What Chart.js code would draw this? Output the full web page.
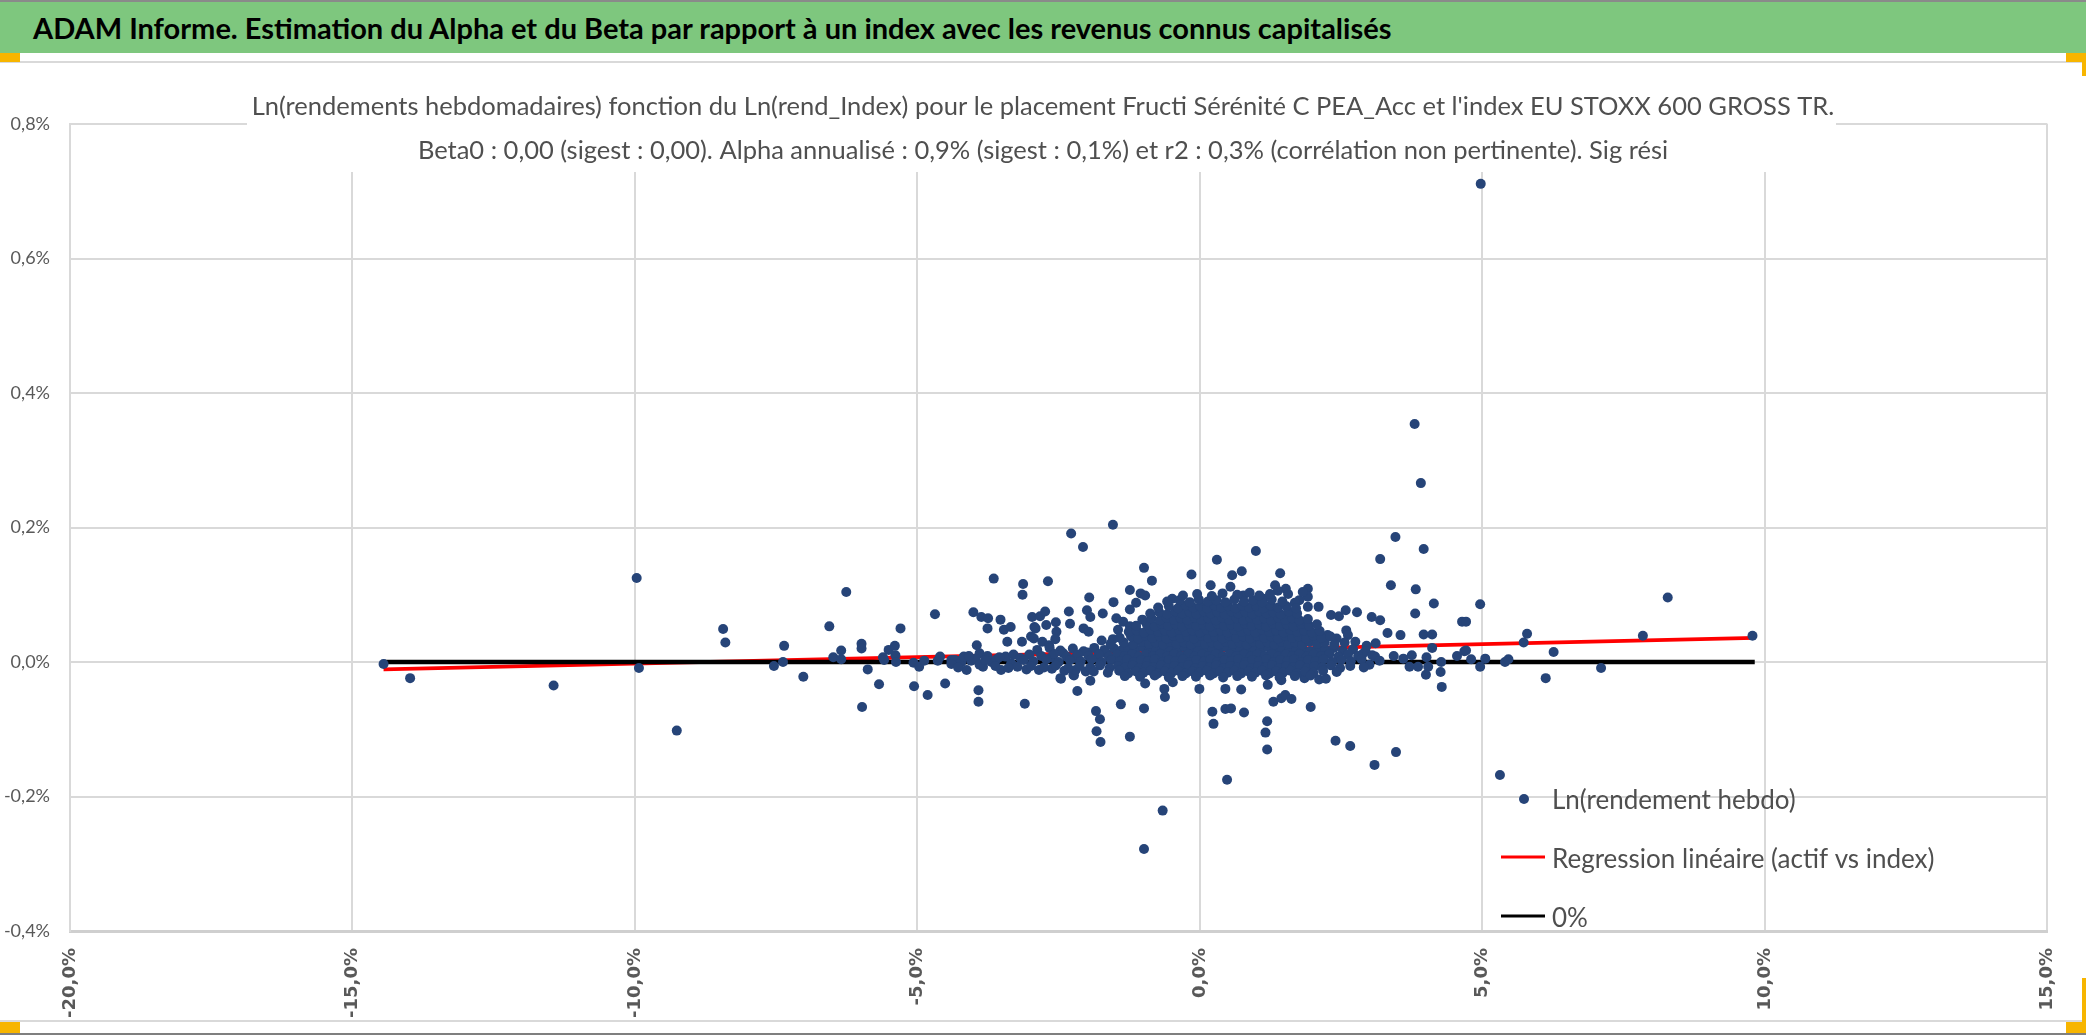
<!DOCTYPE html>
<html>
<head>
<meta charset="utf-8">
<script src="https://cdn.jsdelivr.net/npm/chart.js@4.4.1/dist/chart.umd.min.js"></script>
<style>
  html, body { margin: 0; padding: 0; background: #fff; width: 2086px; height: 1035px; overflow: hidden; }
  #header { position: absolute; left: 0; top: 0; width: 2086px; height: 51px; border-top: 2px solid #8a8a8a; background: #7ec77e; z-index: 2; }
  #header span { position: absolute; left: 33px; top: 8px; line-height: 36px; font: bold 29px Lato, sans-serif; color: #000; white-space: nowrap; }
  .rule { position: absolute; left: 0; width: 2086px; z-index: 2; }
  .handle { position: absolute; background: #f7b500; z-index: 3; }
  #chart { position: absolute; left: 0; top: 0; z-index: 1; }
</style>
</head>
<body>
<div id="header"><span>ADAM Informe. Estimation du Alpha et du Beta par rapport à un index avec les revenus connus capitalisés</span></div>
<div class="rule" style="top:61px;height:2px;background:#d9d9d9"></div>
<div class="rule" style="top:1020px;height:2px;background:#d9d9d9"></div>
<div class="rule" style="top:1033px;height:2px;background:#7f7f7f"></div>
<div class="handle" style="left:0;top:53px;width:20px;height:9px"></div>
<div class="handle" style="left:2066px;top:53px;width:20px;height:9px"></div>
<div class="handle" style="left:2082px;top:62px;width:4px;height:14px"></div>
<div class="handle" style="left:0;top:1022px;width:20px;height:11px"></div>
<div class="handle" style="left:2082px;top:978px;width:4px;height:44px"></div>
<div class="handle" style="left:2066px;top:1022px;width:20px;height:11px"></div>
<canvas id="chart" width="2086" height="1035"></canvas>
<script>
// x = Ln(rend_Index) en %, y = Ln(rendement hebdo) en %
const titleLines = [
  "Ln(rendements hebdomadaires) fonction du Ln(rend_Index) pour le placement Fructi Sérénité C PEA_Acc et l'index EU STOXX 600 GROSS TR.",
  "Beta0 : 0,00 (sigest : 0,00). Alpha annualisé : 0,9% (sigest : 0,1%) et r2 : 0,3% (corrélation non pertinente). Sig rési"
];
const seriesLabels = ["Ln(rendement hebdo)", "Regression linéaire (actif vs index)", "0%"];

const xTicks = { min: -20, max: 15, step: 5 };
const yTicks = { min: -0.4, max: 0.8, step: 0.2 };

// points isolés (queues gauche/droite, valeurs extrêmes)
const wingPoints = [
  [-14.45,-0.003],[-13.98,-0.024],[-11.44,-0.035],[-9.97,0.125],[-9.93,-0.009],[-9.26,-0.102],
  [-8.44,0.049],[-8.40,0.029],[-7.54,-0.006],[-7.38,0.000],[-7.36,0.024],[-7.02,-0.022],
  [-6.56,0.053],[-6.26,0.104],[-6.49,0.007],[-6.35,0.004],[-6.35,0.017],[-5.99,0.027],
  [-5.99,0.020],[-5.88,-0.011],[-5.98,-0.067],[-5.68,-0.033],[-5.61,0.007],[-5.59,0.003],
  [-5.51,0.018],[-5.40,0.024],[-5.39,0.010],[-5.38,0.000],[-5.30,0.050],[-5.06,-0.036],
  [-5.07,-0.001],[-4.97,-0.007],[-4.88,0.002],[-4.69,0.071],[-4.82,-0.049],[-4.51,-0.032],
  [-4.64,0.002],[-4.60,0.008],[-4.40,0.003],[-4.31,0.002],[-4.25,-0.002],
  [-4.01,0.074],[-3.87,0.067],[-3.75,0.065],[-3.76,0.050],[-3.53,0.063],[-3.47,0.048],
  [-3.35,0.052],[-3.41,0.030],[-2.97,0.067],[-2.93,0.052],[-2.99,0.038],[-3.15,0.030],
  [-2.83,0.068],[-2.74,0.075],[-2.72,0.055],[-2.55,0.059],[-2.54,0.045],[-2.32,0.075],
  [-2.30,0.057],[-2.00,0.077],[-1.94,0.067],[-1.72,0.072],[-1.48,0.065],[-1.36,0.060],
  [-3.95,0.025],[-3.90,0.013],[-1.54,0.204],[-2.28,0.191],[-2.07,0.171],[-3.65,0.124],
  [-3.13,0.116],[-3.14,0.100],[-2.69,0.120],[-0.99,0.140],[-0.85,0.121],[0.30,0.152],
  [-0.15,0.130],[-1.96,0.096],[-1.53,0.089],[-1.24,0.107],[-1.05,0.102],[-0.97,0.099],
  [-0.49,0.094],[0.19,0.114],
  [-3.92,-0.042],[-3.92,-0.059],[-3.10,-0.062],[-2.46,-0.025],[-2.23,-0.020],[-2.17,-0.043],
  [-1.94,-0.028],[-1.84,-0.073],[-1.77,-0.085],[-1.83,-0.103],[-1.76,-0.119],[-1.40,-0.063],
  [-1.24,-0.111],[-0.99,-0.069],[-0.63,-0.040],[-0.62,-0.052],[-0.48,-0.030],[-0.01,-0.040],
  [0.22,-0.074],[0.24,-0.092],[0.45,-0.040],[0.45,-0.070],[-0.97,-0.032],[-2.47,-0.024],
  [-2.24,-0.019],[-0.99,-0.278],[-0.66,-0.221],[0.48,-0.175],
  [-4.34,0.003],[-4.22,0.000],[-4.13,-0.012],[-4.05,0.002],[-3.84,-0.007],[-3.69,0.000],
  [-3.52,-0.012],[-3.34,-0.002],[-3.23,-0.007],[-4.18,0.008],[-3.97,0.005],[-3.76,0.009],
  [-3.60,0.004],[-3.44,0.008],[-3.30,0.011],[-3.90,-0.004],[-3.62,-0.006],[-4.40,-0.003],
  [-4.28,-0.008],[-4.09,0.009],[-3.80,0.003],[-3.55,0.007],[-3.39,-0.009],[-3.18,0.006],
  [-3.07,-0.011],[-2.85,-0.012],[-2.62,-0.010],[-2.40,-0.013],[-2.20,-0.012],[-2.02,-0.014],
  [-2.63,0.007],[-2.42,0.013],[-2.21,0.006],[-1.99,0.014],[-1.81,0.006],[-1.66,0.013],
  [-2.06,0.050],[-1.97,0.045],[-1.45,0.048],[-1.24,0.053],[-1.24,0.078],[-1.13,0.088],
  [-2.91,0.050],[-2.94,0.035],[-2.79,0.030],[-2.67,0.025],[-2.56,0.034],[-1.74,0.032],
  [-1.54,0.034],
  [3.46,0.186],[3.96,0.168],[0.99,0.165],[3.19,0.153],[3.38,0.114],[3.82,0.108],
  [4.14,0.087],[4.96,0.086],[3.81,0.072],[4.64,0.060],[3.04,0.067],[3.19,0.062],
  [2.78,0.074],[3.32,0.043],[3.55,0.040],[3.96,0.041],[4.11,0.041],[3.11,0.028],
  [4.11,0.021],[4.55,0.009],[4.68,0.016],[4.80,0.004],[5.05,0.005],[4.96,-0.007],
  [5.40,0.000],[3.43,0.009],[3.60,0.005],[3.75,0.010],[3.71,-0.007],[3.86,-0.007],
  [4.01,0.007],[4.04,-0.007],[4.00,-0.019],[4.27,0.000],[4.26,-0.015],[4.28,-0.037],
  [2.59,0.047],[2.42,0.035],[2.26,0.040],[2.32,0.070],[2.46,0.068],[2.58,0.077],
  [2.10,0.082],[1.91,0.082],[1.91,0.109],[1.91,0.097],[1.76,0.092],[1.52,0.109],
  [1.42,0.132],[1.33,0.114],[1.12,0.094],[0.98,0.090],[0.77,0.099],[0.74,0.135],
  [0.57,0.129],[0.54,0.112],[1.38,0.106],[1.56,0.101],[1.68,0.088],[1.82,0.104],
  [2.75,0.030],[2.88,0.012],[3.00,-0.004],[2.62,0.040],[2.95,0.024],[3.10,0.008],
  [0.73,-0.041],[0.55,-0.069],[0.78,-0.075],[1.20,-0.034],[1.44,-0.027],[1.30,-0.059],
  [1.44,-0.054],[1.51,-0.049],[1.62,-0.055],[1.19,-0.088],[1.16,-0.105],[1.19,-0.130],
  [1.96,-0.067],[1.85,-0.024],[2.11,-0.026],[2.23,-0.025],[2.40,-0.117],[2.66,-0.125],
  [3.09,-0.153],[3.47,-0.134],
  [8.28,0.096],[9.78,0.039],[7.84,0.039],[5.79,0.042],[5.73,0.029],[6.26,0.015],
  [6.12,-0.024],[7.10,-0.009],[4.71,0.017],[4.71,0.060],[5.46,0.004],[5.31,-0.168],
  [4.97,0.711],[3.80,0.354],[3.91,0.266]
];

// bande dense autour de zéro
const bandPoints = [
  [-2.88,0.018],[-2.66,0.021],[-2.47,0.017],[-2.25,0.020],[-2.06,0.016],[-1.87,0.021],[-1.69,0.018],
  [-1.52,0.020],[-1.39,0.017],[-1.26,0.021],[-1.14,0.019],[-1.01,0.022],[-0.89,0.018],[-0.77,0.020],
  [-0.64,0.017],[-0.52,0.021],[-0.40,0.019],[-0.27,0.022],[-0.15,0.018],[-0.03,0.020],[0.10,0.017],
  [0.22,0.021],[0.34,0.019],[0.47,0.022],[0.59,0.018],[0.71,0.020],[0.84,0.017],[0.96,0.021],
  [1.08,0.019],[1.21,0.022],[1.33,0.018],[1.45,0.020],[1.58,0.017],[1.70,0.021],[1.82,0.019],
  [1.95,0.016],[2.08,0.020],[2.22,0.018],[2.37,0.021],[2.53,0.017],[2.71,0.019],[2.93,0.016],
  [-3.02,0.011],[-2.81,0.009],[-2.58,0.012],[-2.36,0.008],[-2.16,0.011],[-1.97,0.009],[-1.79,0.012],
  [-1.61,0.008],[-1.46,0.011],[-1.33,0.009],[-1.20,0.012],[-1.08,0.008],[-0.95,0.011],[-0.83,0.009],
  [-0.70,0.012],[-0.58,0.008],[-0.46,0.011],[-0.33,0.009],[-0.21,0.012],[-0.09,0.008],[0.04,0.011],
  [0.16,0.009],[0.28,0.012],[0.41,0.008],[0.53,0.011],[0.65,0.009],[0.78,0.012],[0.90,0.008],
  [1.02,0.011],[1.15,0.009],[1.27,0.012],[1.39,0.008],[1.52,0.011],[1.64,0.009],[1.76,0.012],
  [1.89,0.008],[2.01,0.011],[2.15,0.009],[2.29,0.012],[2.45,0.008],[2.62,0.011],[2.80,0.009],
  [3.05,0.010],
  [-3.12,0.003],[-2.95,0.001],[-2.72,0.004],[-2.50,0.000],[-2.30,0.003],[-2.11,0.001],[-1.92,0.004],
  [-1.74,0.000],[-1.57,0.003],[-1.42,0.001],[-1.29,0.004],[-1.17,0.000],[-1.04,0.003],[-0.92,0.001],
  [-0.80,0.004],[-0.67,0.000],[-0.55,0.003],[-0.43,0.001],[-0.30,0.004],[-0.18,0.000],[-0.06,0.003],
  [0.07,0.001],[0.19,0.004],[0.31,0.000],[0.44,0.003],[0.56,0.001],[0.68,0.004],[0.81,0.000],
  [0.93,0.003],[1.05,0.001],[1.18,0.004],[1.30,0.000],[1.42,0.003],[1.55,0.001],[1.67,0.004],
  [1.79,0.000],[1.92,0.003],[2.05,0.001],[2.19,0.004],[2.34,0.000],[2.50,0.003],[2.67,0.001],
  [2.86,0.004],[3.18,0.002],
  [-2.99,-0.006],[-2.76,-0.008],[-2.55,-0.005],[-2.33,-0.009],[-2.13,-0.006],[-1.94,-0.008],[-1.77,-0.005],
  [-1.60,-0.009],[-1.45,-0.006],[-1.32,-0.008],[-1.19,-0.005],[-1.07,-0.009],[-0.94,-0.006],[-0.82,-0.008],
  [-0.69,-0.005],[-0.57,-0.009],[-0.45,-0.006],[-0.32,-0.008],[-0.20,-0.005],[-0.08,-0.009],[0.05,-0.006],
  [0.17,-0.008],[0.29,-0.005],[0.42,-0.009],[0.54,-0.006],[0.66,-0.008],[0.79,-0.005],[0.91,-0.009],
  [1.03,-0.006],[1.16,-0.008],[1.28,-0.005],[1.40,-0.009],[1.53,-0.006],[1.65,-0.008],[1.77,-0.005],
  [1.90,-0.009],[2.03,-0.006],[2.17,-0.008],[2.32,-0.005],[2.48,-0.009],[2.66,-0.006],[2.90,-0.008],
  [-1.88,-0.014],[-1.63,-0.016],[-1.43,-0.013],[-1.27,-0.017],[-1.13,-0.014],[-1.00,-0.016],[-0.87,-0.013],
  [-0.75,-0.017],[-0.62,-0.014],[-0.50,-0.016],[-0.38,-0.013],[-0.25,-0.017],[-0.13,-0.014],[-0.01,-0.016],
  [0.12,-0.013],[0.24,-0.017],[0.36,-0.014],[0.49,-0.016],[0.61,-0.013],[0.73,-0.017],[0.86,-0.014],
  [0.98,-0.016],[1.10,-0.013],[1.23,-0.017],[1.35,-0.014],[1.47,-0.016],[1.60,-0.013],[1.72,-0.017],
  [1.86,-0.014],[2.01,-0.016],[2.18,-0.013],[2.42,-0.015],
  [-1.33,-0.021],[-1.06,-0.022],[-0.80,-0.020],[-0.55,-0.023],[-0.31,-0.021],[-0.07,-0.022],[0.18,-0.020],
  [0.41,-0.023],[0.66,-0.021],[0.92,-0.022],[1.17,-0.020],[1.41,-0.023],[1.68,-0.021],[1.96,-0.020]
];

// nuage au-dessus de la bande
const cloudPoints = [
  [-1.58,0.027],[-1.35,0.029],[-1.18,0.026],[-1.03,0.030],[-0.90,0.027],[-0.78,0.029],[-0.65,0.026],
  [-0.53,0.030],[-0.41,0.027],[-0.28,0.029],[-0.16,0.026],[-0.04,0.030],[0.09,0.027],[0.21,0.029],
  [0.33,0.026],[0.46,0.030],[0.58,0.027],[0.70,0.029],[0.83,0.026],[0.95,0.030],[1.07,0.027],
  [1.20,0.029],[1.32,0.026],[1.44,0.030],[1.57,0.027],[1.69,0.029],[1.81,0.026],[1.94,0.030],
  [2.07,0.027],[2.21,0.029],[2.38,0.026],[2.56,0.029],
  [-1.42,0.036],[-1.22,0.038],[-1.09,0.035],[-0.96,0.039],[-0.84,0.036],[-0.71,0.038],[-0.59,0.035],
  [-0.47,0.039],[-0.34,0.036],[-0.22,0.038],[-0.10,0.035],[0.03,0.039],[0.15,0.036],[0.27,0.038],
  [0.40,0.035],[0.52,0.039],[0.64,0.036],[0.77,0.038],[0.89,0.035],[1.01,0.039],[1.14,0.036],
  [1.26,0.038],[1.38,0.035],[1.51,0.039],[1.63,0.036],[1.75,0.038],[1.88,0.035],[2.01,0.039],
  [2.15,0.036],[2.31,0.038],
  [-1.26,0.045],[-1.12,0.047],[-0.99,0.044],[-0.87,0.048],[-0.74,0.045],[-0.62,0.047],[-0.50,0.044],
  [-0.37,0.048],[-0.25,0.045],[-0.13,0.047],[0.00,0.044],[0.12,0.048],[0.24,0.045],[0.37,0.047],
  [0.49,0.044],[0.61,0.048],[0.74,0.045],[0.86,0.047],[0.98,0.044],[1.11,0.048],[1.23,0.045],
  [1.35,0.047],[1.48,0.044],[1.60,0.048],[1.72,0.045],[1.85,0.047],[1.98,0.044],[2.12,0.046],
  [-1.13,0.054],[-0.94,0.056],[-0.80,0.053],[-0.68,0.057],[-0.56,0.054],[-0.43,0.056],[-0.31,0.053],
  [-0.19,0.057],[-0.06,0.054],[0.06,0.056],[0.18,0.053],[0.31,0.057],[0.43,0.054],[0.55,0.056],
  [0.68,0.053],[0.80,0.057],[0.92,0.054],[1.05,0.056],[1.17,0.053],[1.29,0.057],[1.42,0.054],
  [1.54,0.056],[1.66,0.053],[1.79,0.057],[1.93,0.054],[2.07,0.056],
  [-1.02,0.063],[-0.86,0.065],[-0.71,0.062],[-0.59,0.066],[-0.46,0.063],[-0.34,0.065],[-0.22,0.062],
  [-0.09,0.066],[0.03,0.063],[0.15,0.065],[0.28,0.062],[0.40,0.066],[0.52,0.063],[0.65,0.065],
  [0.77,0.062],[0.89,0.066],[1.02,0.063],[1.14,0.065],[1.26,0.062],[1.39,0.066],[1.51,0.063],
  [1.63,0.065],[1.76,0.062],[1.91,0.064],
  [-0.88,0.072],[-0.72,0.074],[-0.58,0.071],[-0.44,0.075],[-0.31,0.072],[-0.18,0.074],[-0.06,0.071],
  [0.07,0.075],[0.19,0.072],[0.31,0.074],[0.44,0.071],[0.56,0.075],[0.68,0.072],[0.81,0.074],
  [0.93,0.071],[1.05,0.075],[1.18,0.072],[1.30,0.074],[1.43,0.071],[1.57,0.075],[1.72,0.072],
  [-0.74,0.081],[-0.55,0.083],[-0.39,0.080],[-0.25,0.084],[-0.12,0.081],[0.01,0.083],[0.13,0.080],
  [0.26,0.084],[0.38,0.081],[0.50,0.083],[0.63,0.080],[0.75,0.084],[0.87,0.081],[1.00,0.083],
  [1.12,0.080],[1.25,0.084],[1.38,0.081],[1.53,0.083],[1.70,0.080],
  [-0.58,0.090],[-0.36,0.092],[-0.18,0.089],[-0.02,0.093],[0.14,0.090],[0.29,0.092],[0.45,0.089],
  [0.61,0.093],[0.78,0.090],[0.94,0.092],[1.10,0.089],[1.27,0.093],[1.46,0.090],
  [-0.30,0.099],[-0.05,0.101],[0.21,0.098],[0.40,0.102],[0.66,0.100],[0.88,0.103],[1.05,0.099],
  [1.24,0.101]
];

const regressionX = [-14.45, 9.82];
const regressionY = [-0.011, 0.036];
const zeroLineX = [-14.45, 9.82];
const zeroLineY = [0, 0];

const weeklyPoints = wingPoints.concat(bandPoints, cloudPoints).map(([x, y]) => ({ x, y }));
const toXY = (xs, ys) => xs.map((x, i) => ({ x, y: ys[i] }));
const frPct = (v, d) => v.toFixed(d).replace(".", ",") + "%";

const grey = "#595959";

// titre posé sur la zone de tracé, avec fond blanc qui masque la grille
const overlayTitle = {
  id: "overlayTitle",
  beforeDatasetsDraw(chart) {
    const ctx = chart.ctx;
    ctx.save();
    ctx.fillStyle = "#fff";
    ctx.fillRect(247, 68, 1589, 104);
    ctx.fillStyle = "#4f4f4f";
    ctx.font = "25.5px Lato";
    ctx.textAlign = "center";
    ctx.textBaseline = "alphabetic";
    ctx.fillText(titleLines[0], 1043, 115);
    ctx.fillText(titleLines[1], 1043, 159);
    ctx.restore();
  }
};

// légende dans le coin bas droit, comme dans Excel
const cornerLegend = {
  id: "cornerLegend",
  afterDraw(chart) {
    const ctx = chart.ctx;
    const rows = [798, 857, 916];
    ctx.save();
    chart.data.datasets.forEach((ds, i) => {
      const y = rows[i];
      if (ds.showLine) {
        ctx.strokeStyle = ds.borderColor;
        ctx.lineWidth = 3;
        ctx.beginPath();
        ctx.moveTo(1501, y);
        ctx.lineTo(1545, y);
        ctx.stroke();
      } else {
        ctx.fillStyle = ds.backgroundColor;
        ctx.beginPath();
        ctx.arc(1524, y + 1, ds.pointRadius, 0, Math.PI * 2);
        ctx.fill();
      }
      ctx.fillStyle = "#4f4f4f";
      ctx.font = "26px Lato";
      ctx.textAlign = "left";
      ctx.textBaseline = "alphabetic";
      ctx.fillText(ds.label, 1552, y + 10.5);
    });
    ctx.restore();
  }
};

new Chart(document.getElementById("chart"), {
  type: "scatter",
  data: {
    datasets: [
      {
        label: seriesLabels[0],
        data: weeklyPoints,
        backgroundColor: "#264478",
        borderWidth: 0,
        pointRadius: 5,
        order: 0
      },
      {
        label: seriesLabels[1],
        data: toXY(regressionX, regressionY),
        showLine: true,
        borderColor: "#ff0000",
        borderWidth: 3.8,
        pointRadius: 0,
        order: 2
      },
      {
        label: seriesLabels[2],
        data: toXY(zeroLineX, zeroLineY),
        showLine: true,
        borderColor: "#000000",
        borderWidth: 4.5,
        pointRadius: 0,
        order: 1
      }
    ]
  },
  options: {
    responsive: false,
    animation: false,
    devicePixelRatio: 1,
    layout: { padding: { top: 124, right: 18, bottom: 15, left: 0 } },
    plugins: {
      legend: { display: false },
      title: { display: false },
      tooltip: { enabled: false }
    },
    scales: {
      x: {
        type: "linear",
        min: xTicks.min,
        max: xTicks.max,
        afterFit: (s) => { s.height = 89; },
        grid: { color: "#d9d9d9", lineWidth: 2, drawTicks: false },
        border: { color: "#cfcfcf", width: 3 },
        ticks: {
          stepSize: xTicks.step,
          autoSkip: false,
          minRotation: 90,
          maxRotation: 90,
          padding: 17,
          color: grey,
          font: { family: "DejaVu Sans", weight: "bold", size: 18 },
          callback: (v) => frPct(v, 1)
        }
      },
      y: {
        type: "linear",
        min: yTicks.min,
        max: yTicks.max,
        afterFit: (s) => { s.width = 70; },
        grid: { color: "#d9d9d9", lineWidth: 2, drawTicks: false },
        border: { color: "#d9d9d9", width: 2 },
        ticks: {
          stepSize: yTicks.step,
          padding: 20,
          color: grey,
          font: { family: "Lato", size: 18 },
          callback: (v) => frPct(v, 1)
        }
      }
    }
  },
  plugins: [overlayTitle, cornerLegend]
});
</script>
</body>
</html>
